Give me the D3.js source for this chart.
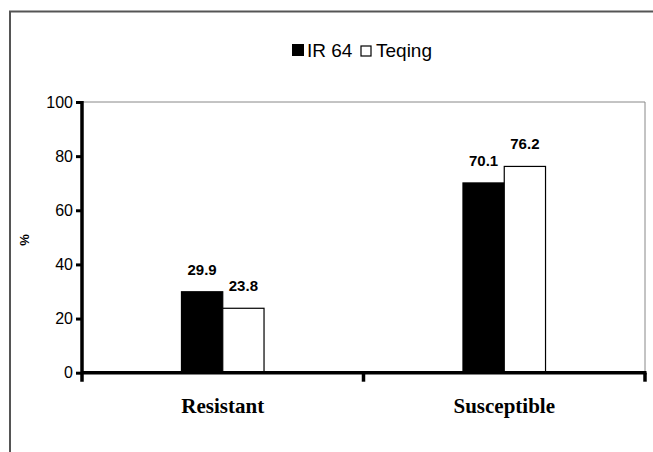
<!DOCTYPE html>
<html>
<head>
<meta charset="utf-8">
<script src="https://cdn.jsdelivr.net/npm/d3@7"></script>
<style>
  body { margin: 0; background: #fff; }
  svg { display: block; }
</style>
</head>
<body>
<div id="chart"></div>
<script>
// data
const categories = ['Resistant', 'Susceptible'];
const seriesNames = ['IR 64', 'Teqing'];
const ir64 = [29.9, 70.1];
const teqing = [23.8, 76.2];
const yTicks = [0, 20, 40, 60, 80, 100];

const width = 653, height = 452;
const plotL = 82, plotR = 645, plotT = 102, plotB = 372.7;
const sans = 'Liberation Sans, Arial, sans-serif';

const svg = d3.select('#chart').append('svg')
    .attr('width', width)
    .attr('height', height);

// outer frame
svg.append('rect')
    .attr('x', 10).attr('y', 11.5)
    .attr('width', 660).attr('height', 460)
    .attr('fill', 'none')
    .attr('stroke', '#555')
    .attr('stroke-width', 2);

const x = d3.scaleBand().domain(categories).range([plotL, plotR]);
const xs = d3.scaleBand().domain(seriesNames).range([0, x.bandwidth()]).paddingOuter(2.41);
const y = d3.scaleLinear().domain([0, 100]).range([plotB, plotT]);

const rows = categories.map((c, i) => ({cat: c, values: [ir64[i], teqing[i]]}));

// plot border (top and right)
svg.append('path')
    .attr('d', `M${plotL},${plotT}H${plotR}V${plotB}`)
    .attr('fill', 'none')
    .attr('stroke', '#888')
    .attr('stroke-width', 1);

// bars
const groups = svg.selectAll('.grp')
    .data(rows)
  .enter().append('g')
    .attr('transform', d => 'translate(' + x(d.cat) + ',0)');

groups.selectAll('rect')
    .data(d => d.values.map((v, j) => ({s: seriesNames[j], v: v, j: j})))
  .enter().append('rect')
    .attr('x', d => xs(d.s))
    .attr('y', d => y(d.v))
    .attr('width', xs.bandwidth())
    .attr('height', d => y(0) - y(d.v))
    .attr('fill', d => d.j === 0 ? '#000' : '#fff')
    .attr('stroke', '#000')
    .attr('stroke-width', 1.2);

// value labels
groups.selectAll('text')
    .data(d => d.values.map((v, j) => ({s: seriesNames[j], v: v})))
  .enter().append('text')
    .attr('x', d => xs(d.s) + xs.bandwidth() / 2)
    .attr('y', d => y(d.v) - 17)
    .attr('text-anchor', 'middle')
    .style('font-family', sans)
    .style('font-weight', 'bold')
    .style('font-size', '15px')
    .text(d => d.v.toFixed(1));

// y axis
const yAxis = d3.axisLeft(y).tickValues(yTicks).tickSize(6).tickSizeOuter(0).tickPadding(3);
const yg = svg.append('g').attr('transform', 'translate(' + plotL + ',0)').call(yAxis);
yg.select('.domain').remove();
yg.selectAll('line').attr('stroke', '#000').attr('stroke-width', 3);
yg.selectAll('text')
    .style('font-family', sans)
    .style('font-size', '16px')
    .attr('fill', '#000');
svg.append('line')
    .attr('x1', plotL).attr('x2', plotL)
    .attr('y1', plotT - 1).attr('y2', plotB + 9)
    .attr('stroke', '#000').attr('stroke-width', 3.5);

// x axis
svg.append('line')
    .attr('x1', plotL).attr('x2', plotR + 1.5)
    .attr('y1', plotB).attr('y2', plotB)
    .attr('stroke', '#000').attr('stroke-width', 3.5);
const bounds = categories.map(c => x(c) + x.bandwidth());
svg.selectAll('.xtick')
    .data(bounds)
  .enter().append('line')
    .attr('x1', d => d).attr('x2', d => d)
    .attr('y1', plotB).attr('y2', plotB + 9)
    .attr('stroke', '#000').attr('stroke-width', 3.5);

svg.selectAll('.xlab')
    .data(categories)
  .enter().append('text')
    .attr('x', d => x(d) + x.bandwidth() / 2)
    .attr('y', 413)
    .attr('text-anchor', 'middle')
    .style('font-family', 'Liberation Serif, Times New Roman, serif')
    .style('font-weight', 'bold')
    .style('font-size', '21px')
    .text(d => d);

// y label
svg.append('text')
    .attr('transform', 'translate(29,240) rotate(-90)')
    .attr('text-anchor', 'middle')
    .style('font-family', sans)
    .style('font-weight', 'bold')
    .style('font-size', '13px')
    .text('%');

// legend
const legend = svg.append('g').attr('transform', 'translate(292,41)');
legend.append('rect').attr('x', 0).attr('y', 3).attr('width', 12).attr('height', 12).attr('fill', '#000');
legend.append('text').attr('x', 15).attr('y', 16)
    .style('font-family', sans)
    .style('font-size', '19px')
    .text(seriesNames[0]);
legend.append('rect').attr('x', 69).attr('y', 5).attr('width', 10).attr('height', 10)
    .attr('fill', '#fff').attr('stroke', '#000').attr('stroke-width', 1.2);
legend.append('text').attr('x', 84).attr('y', 16)
    .style('font-family', sans)
    .style('font-size', '19px')
    .text(seriesNames[1]);
</script>
</body>
</html>
